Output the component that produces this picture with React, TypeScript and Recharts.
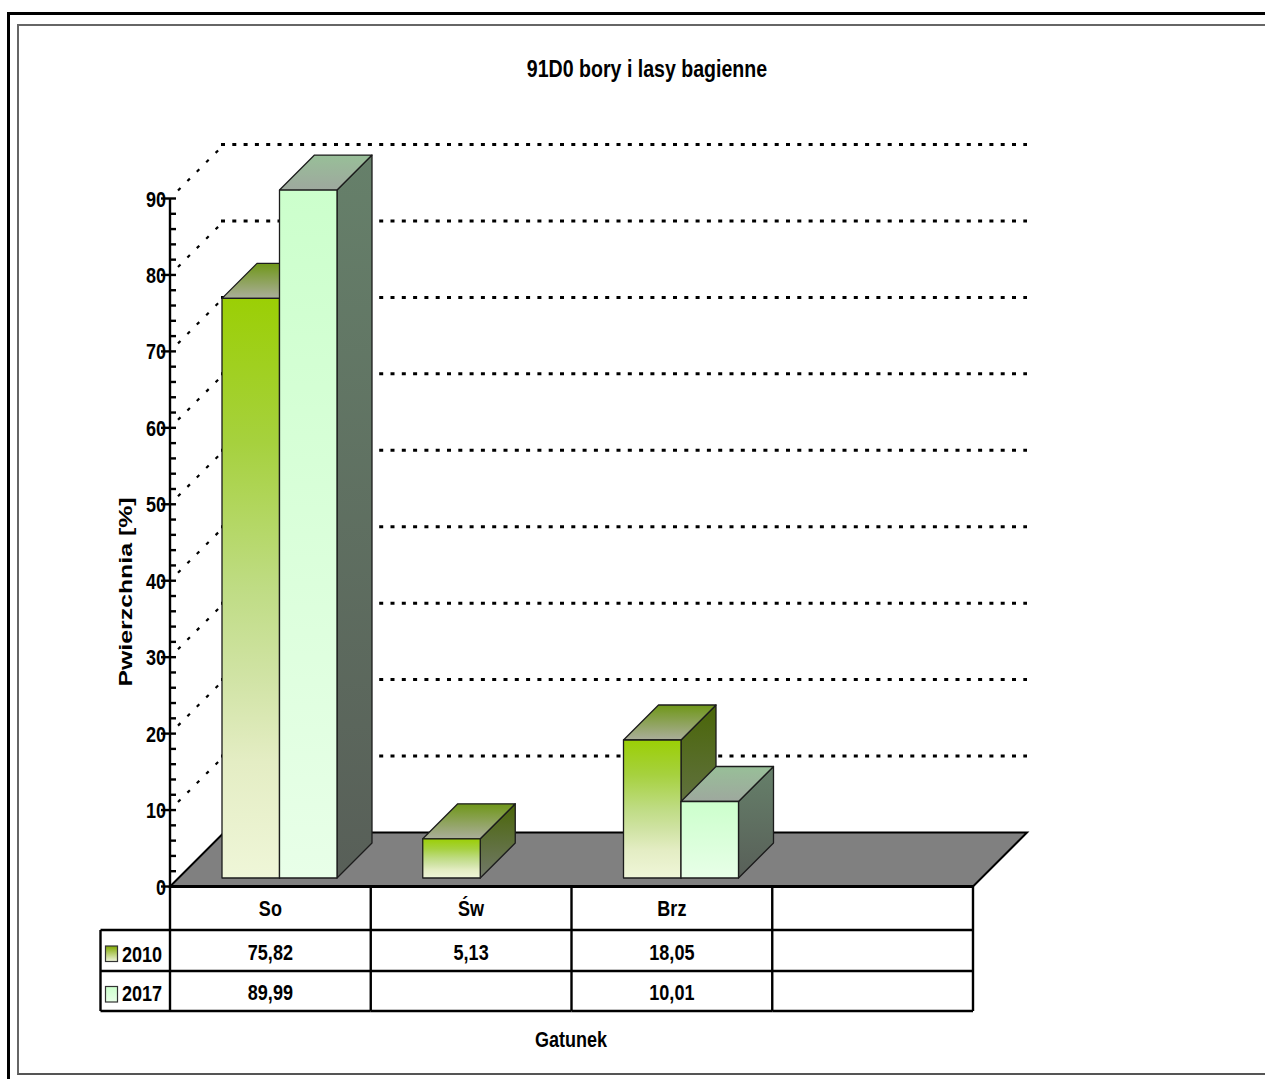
import React from "react";
import {
  BarChart,
  Bar,
  CartesianGrid,
  XAxis,
  YAxis,
} from "recharts";

/* ---------------- DATA ---------------- */
const categories = ["So", "Św", "Brz", " "];
const values2010 = [75.82, 5.13, 18.05, null];
const values2017 = [89.99, null, 10.01, null];
const seriesNames = ["2010", "2017"];
const yTicks = [
  0, 2, 4, 6, 8, 10, 12, 14, 16, 18, 20, 22, 24, 26, 28, 30, 32, 34, 36, 38, 40, 42, 44, 46,
  48, 50, 52, 54, 56, 58, 60, 62, 64, 66, 68, 70, 72, 74, 76, 78, 80, 82, 84, 86, 88, 90,
];
const gridValues = [0, 10, 20, 30, 40, 50, 60, 70, 80, 90];

const chartTitle = "91D0 bory i lasy bagienne";
const yTitle = "Pwierzchnia [%]";
const xTitle = "Gatunek";

const data = categories.map((name, i) => ({
  name,
  a: values2010[i],
  b: values2017[i],
}));

/* ---------------- LAYOUT ---------------- */
const WIDTH = 1265;
const HEIGHT = 1079;
const PLOT_LEFT = 170;
const PLOT_RIGHT = 973;
const PLOT_TOP = 198.5;
const PLOT_BOTTOM = 886.5;
const COL_W = (PLOT_RIGHT - PLOT_LEFT) / categories.length;

const WALL = 54; // floor depth
const BAR_DX = 9; // bars stand a bit behind the front edge
const BAR_DY = 8.5;
const BAR_DEPTH = 35;

const FONT = '"Liberation Sans", Arial, sans-serif';

const fmt = (v: number | null) => (v == null ? "" : v.toFixed(2).replace(".", ","));

// no narrow Arial on the box, so squeeze the normal one
const NarrowText = ({ x, y, anchor = "start", scale = 0.82, size = 22, children }: any) => (
  <text
    transform={`translate(${x} ${y}) scale(${scale} 1)`}
    textAnchor={anchor}
    fontFamily={FONT}
    fontWeight={700}
    fontSize={size}
    fill="#000"
  >
    {children}
  </text>
);

/* ---------------- BAR SHAPE ---------------- */
const Bar3D = ({ x, y, width, height, value, front, side, top }: any) => {
  if (value == null || !height) return null;
  const l = x + BAR_DX;
  const r = l + width;
  const t = y - BAR_DY;
  const b = t + height;
  const d = BAR_DEPTH;
  return (
    <g stroke="#1c1c1c" strokeWidth={1.3} strokeLinejoin="round">
      <polygon points={`${r},${t} ${r + d},${t - d} ${r + d},${b - d} ${r},${b}`} fill={`url(#${side})`} />
      <polygon points={`${l},${t} ${l + d},${t - d} ${r + d},${t - d} ${r},${t}`} fill={`url(#${top})`} />
      <rect x={l} y={t} width={width} height={height} fill={`url(#${front})`} />
    </g>
  );
};

/* ---------------- BACK WALL + FLOOR ---------------- */
const BackLine = ({ x1, x2, y1, key }: any) => {
  if (y1 > PLOT_BOTTOM - 1) {
    return (
      <polygon
        key={key}
        points={`${x1},${y1} ${x2},${y1} ${x2 + WALL},${y1 - WALL} ${x1 + WALL},${y1 - WALL}`}
        fill="#808080"
        stroke="#000"
        strokeWidth={2}
      />
    );
  }
  return (
    <g key={key} fill="none" stroke="#000">
      <line x1={x1 + 8} y1={y1 - 8} x2={x1 + 49} y2={y1 - 49} strokeWidth={2.2} strokeDasharray="3.5 9.8" />
      <line x1={x1 + 51} y1={y1 - WALL} x2={x2 + WALL} y2={y1 - WALL} strokeWidth={3} strokeDasharray="4 7.3" />
    </g>
  );
};

/* ---------------- AXIS TICKS ---------------- */
const YTick = ({ x, y, payload }: any) => {
  const major = payload.value % 10 === 0;
  return (
    <g>
      <line x1={major ? x - 9 : x} x2={x + 6} y1={y} y2={y} stroke="#000" strokeWidth={2.4} />
      {major && (
        <NarrowText x={x - 4} y={y + 8} anchor="end">
          {payload.value}
        </NarrowText>
      )}
    </g>
  );
};

const LegendKey = ({ row, y, fill, textY }: any) => (
  <g>
    <rect x={105.5} y={y} width={12} height={15.5} fill={fill} stroke="#333" strokeWidth={1.2} />
    <NarrowText x={122} y={textY}>
      {seriesNames[row]}
    </NarrowText>
  </g>
);

// one table column under every category, the first one also draws the key column
const TableTick = ({ x, payload, index }: any) => {
  const left = x - COL_W / 2;
  const right = x + COL_W / 2;
  const base = PLOT_BOTTOM;
  return (
    <g>
      {index === 0 && (
        <g stroke="#000" strokeWidth={2.4}>
          <line x1={100.5} x2={PLOT_LEFT} y1={930} y2={930} />
          <line x1={100.5} x2={PLOT_LEFT} y1={971} y2={971} />
          <line x1={100.5} x2={PLOT_LEFT} y1={1011} y2={1011} />
          <line x1={100.5} x2={100.5} y1={930} y2={1011} />
          <line x1={left} x2={left} y1={base} y2={1011} />
        </g>
      )}
      {index === 0 && <LegendKey row={0} y={946} textY={962} fill="url(#key2010)" />}
      {index === 0 && <LegendKey row={1} y={986.5} textY={1001} fill="url(#key2017)" />}
      <g stroke="#000" strokeWidth={2.4}>
        <line x1={left} x2={right} y1={930} y2={930} />
        <line x1={left} x2={right} y1={971} y2={971} />
        <line x1={left} x2={right} y1={1011} y2={1011} />
        <line x1={right} x2={right} y1={base} y2={1011} />
      </g>
      <NarrowText x={x} y={915.5} anchor="middle">
        {payload.value}
      </NarrowText>
      <NarrowText x={x} y={959.5} anchor="middle">
        {fmt(values2010[index])}
      </NarrowText>
      <NarrowText x={x} y={1000} anchor="middle">
        {fmt(values2017[index])}
      </NarrowText>
    </g>
  );
};

/* ---------------- COMPONENT ---------------- */
export default function App() {
  return (
    <div style={{ position: "absolute", left: 0, top: 0, width: WIDTH, height: HEIGHT, background: "#fff", overflow: "hidden" }}>
      {/* double frame, runs off the right edge */}
      <div style={{ position: "absolute", left: 7, top: 12, width: WIDTH, height: HEIGHT, borderTop: "3px solid #000", borderLeft: "3px solid #000", boxSizing: "border-box" }} />
      <div style={{ position: "absolute", left: 17, top: 24, width: WIDTH, height: 1051, borderTop: "2px solid #666", borderLeft: "2px solid #666", borderBottom: "2px solid #555", boxSizing: "border-box" }} />

      <div
        style={{
          position: "absolute",
          left: 0,
          width: 1294,
          top: 55,
          textAlign: "center",
          fontFamily: FONT,
          fontWeight: 700,
          fontSize: 24,
          lineHeight: "28px",
          transform: "scaleX(0.815)",
        }}
      >
        {chartTitle}
      </div>

      <div style={{ position: "absolute", left: 0, top: 0 }}>
        <BarChart
          width={WIDTH}
          height={HEIGHT}
          data={data}
          barSize={57.5}
          barGap={0}
          margin={{ top: PLOT_TOP, left: PLOT_LEFT - 60, right: WIDTH - PLOT_RIGHT, bottom: HEIGHT - PLOT_BOTTOM - 170 }}
        >
          <defs>
            <linearGradient id="f2010" x1="0" y1="0" x2="0" y2="1">
              <stop offset="0%" stopColor="#9BCF05" />
              <stop offset="25%" stopColor="#A6D13E" />
              <stop offset="50%" stopColor="#BFDC84" />
              <stop offset="65%" stopColor="#D0E3A4" />
              <stop offset="80%" stopColor="#E4EDC4" />
              <stop offset="100%" stopColor="#EFF6D8" />
            </linearGradient>
            <linearGradient id="s2010" x1="0" y1="0" x2="0" y2="1">
              <stop offset="0%" stopColor="#4A6608" />
              <stop offset="100%" stopColor="#72796A" />
            </linearGradient>
            <linearGradient id="t2010" x1="0" y1="0" x2="0" y2="1">
              <stop offset="0%" stopColor="#6F9718" />
              <stop offset="100%" stopColor="#ABAE9B" />
            </linearGradient>
            <linearGradient id="f2017" x1="0" y1="0" x2="0" y2="1">
              <stop offset="0%" stopColor="#CCFFCC" />
              <stop offset="100%" stopColor="#E8FFE8" />
            </linearGradient>
            <linearGradient id="s2017" x1="0" y1="0" x2="0" y2="1">
              <stop offset="0%" stopColor="#66806A" />
              <stop offset="100%" stopColor="#585F58" />
            </linearGradient>
            <linearGradient id="t2017" x1="0" y1="0" x2="0" y2="1">
              <stop offset="0%" stopColor="#98BF98" />
              <stop offset="100%" stopColor="#9EA89E" />
            </linearGradient>
            <linearGradient id="key2010" x1="0" y1="0" x2="0" y2="1">
              <stop offset="0%" stopColor="#7FA800" />
              <stop offset="100%" stopColor="#F0F5DC" />
            </linearGradient>
            <linearGradient id="key2017" x1="0" y1="0" x2="0" y2="1">
              <stop offset="0%" stopColor="#CCFFCC" />
              <stop offset="100%" stopColor="#E8FFE8" />
            </linearGradient>
          </defs>

          <CartesianGrid vertical={false} horizontalValues={gridValues} horizontal={BackLine} />

          <XAxis
            dataKey="name"
            interval={0}
            height={170}
            tickLine={false}
            tickSize={0}
            tick={TableTick}
            axisLine={{ stroke: "#000", strokeWidth: 3 }}
            label={{
              content: () => (
                <NarrowText x={571} y={1046.5} anchor="middle">
                  {xTitle}
                </NarrowText>
              ),
            }}
          />
          <YAxis
            width={60}
            domain={[0, 90]}
            ticks={yTicks}
            interval={0}
            tickLine={false}
            tickSize={0}
            tickMargin={0}
            tick={YTick}
            axisLine={{ stroke: "#000", strokeWidth: 2.4 }}
            label={{
              content: () => (
                <text
                  transform="translate(132 592) rotate(-90)"
                  textAnchor="middle"
                  fontFamily={FONT}
                  fontWeight={700}
                  fontSize={19}
                  textLength={189}
                  lengthAdjust="spacingAndGlyphs"
                >
                  {yTitle}
                </text>
              ),
            }}
          />

          <Bar dataKey="a" name={seriesNames[0]} isAnimationActive={false} shape={(p: any) => <Bar3D {...p} front="f2010" side="s2010" top="t2010" />} />
          <Bar dataKey="b" name={seriesNames[1]} isAnimationActive={false} shape={(p: any) => <Bar3D {...p} front="f2017" side="s2017" top="t2017" />} />
        </BarChart>
      </div>
    </div>
  );
}
